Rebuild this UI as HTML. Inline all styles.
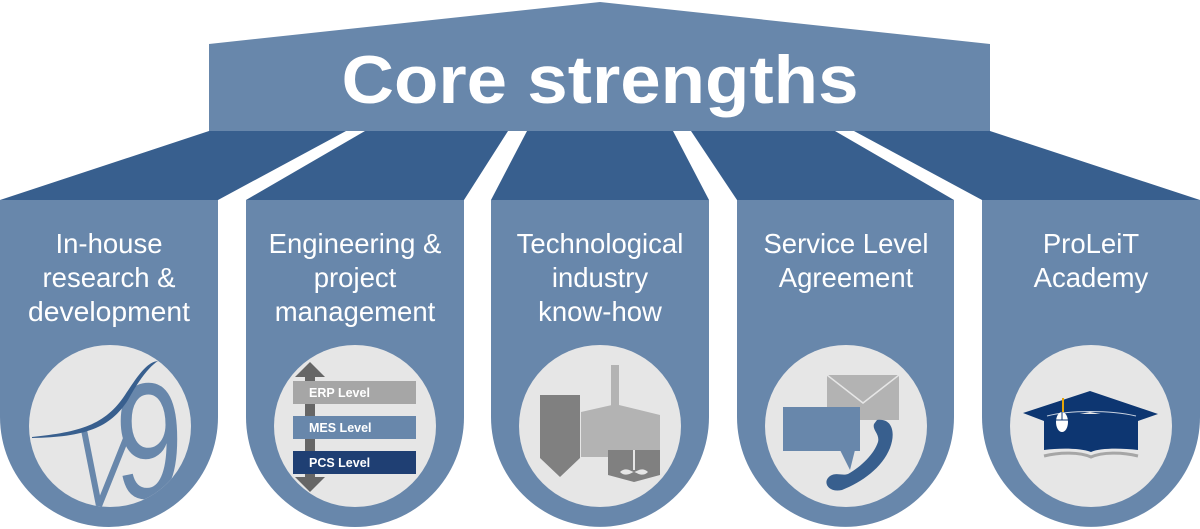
<!DOCTYPE html>
<html><head><meta charset="utf-8"><style>html,body{margin:0;padding:0;background:#fff}svg{display:block}</style></head>
<body>
<svg width="1200" height="529" viewBox="0 0 1200 529" xmlns="http://www.w3.org/2000/svg" font-family="Liberation Sans, Arial, sans-serif">
<defs>
<clipPath id="c1"><ellipse cx="110" cy="426" rx="81" ry="81"/></clipPath>
</defs>
<polygon points="209,44 600,2 990,44 990,131 209,131" fill="#6887ab"/>
<text x="600" y="103" text-anchor="middle" font-size="68" font-weight="bold" fill="#fff" textLength="517" lengthAdjust="spacingAndGlyphs">Core strengths</text>
<g fill="#385f8e">
<polygon points="0,200 218,200 346,131 209,131"/>
<polygon points="365,131 508,131 464,200 246,200"/>
<polygon points="527,131 673,131 709,200 491,200"/>
<polygon points="691,131 835,131 954,200 737,200"/>
<polygon points="854,131 990,131 1200,200 982,200"/>
</g>
<g fill="#6887ab">
<path d="M0,200 H218 V417 A109,110 0 0 1 0,417 Z"/>
<path d="M246,200 H464 V417 A109,110 0 0 1 246,417 Z"/>
<path d="M491,200 H709 V417 A109,110 0 0 1 491,417 Z"/>
<path d="M737,200 H954 V417 A108.5,110 0 0 1 737,417 Z"/>
<path d="M982,200 H1200 V417 A109,110 0 0 1 982,417 Z"/>
</g>
<g fill="#fff" font-size="27.5" text-anchor="middle">
<text x="109" y="253">In-house</text><text x="109" y="287">research &amp;</text><text x="109" y="321" textLength="162" lengthAdjust="spacingAndGlyphs">development</text>
<text x="355" y="253">Engineering &amp;</text><text x="355" y="287">project</text><text x="355" y="321">management</text>
<text x="600" y="253">Technological</text><text x="600" y="287">industry</text><text x="600" y="321">know-how</text>
<text x="846" y="253">Service Level</text><text x="846" y="287">Agreement</text>
<text x="1091" y="253">ProLeiT</text><text x="1091" y="287">Academy</text>
</g>
<g fill="#e6e6e6">
<ellipse cx="110" cy="426" rx="81" ry="81"/>
<ellipse cx="355" cy="426" rx="81" ry="81"/>
<ellipse cx="600" cy="426" rx="81" ry="81"/>
<ellipse cx="846" cy="426" rx="81" ry="81"/>
<ellipse cx="1091" cy="426" rx="81" ry="81"/>
</g>
<g clip-path="url(#c1)">
<polyline points="84,430 99,506 127,436" fill="none" stroke="#6887ab" stroke-width="6"/>
<text x="115" y="498" font-size="165" fill="#6887ab" textLength="68" lengthAdjust="spacingAndGlyphs">9</text>
<path d="M32,437 C80,432 105,425 125,395 C140,372 148,362 158,361 C150,366 140,378 128,400 C110,428 85,437 32,438 Z" fill="#385f8e"/>
</g>
<rect x="305" y="375" width="10" height="110" fill="#666"/>
<polygon points="310,362 295,377 325,377" fill="#666"/>
<polygon points="310,492 295,477 325,477" fill="#666"/>
<rect x="293" y="381" width="123" height="23" fill="#a6a6a6"/>
<rect x="293" y="416" width="123" height="23" fill="#6887ab"/>
<rect x="293" y="451" width="123" height="23" fill="#1f3f73"/>
<g fill="#fff" font-size="12.5" font-weight="bold">
<text x="309" y="397">ERP Level</text><text x="309" y="432">MES Level</text><text x="309" y="467">PCS Level</text>
</g>
<polygon points="540,395 580,395 580,458 560,477 540,458" fill="#808080"/>
<rect x="611" y="365" width="8" height="42" fill="#b3b3b3"/>
<polygon points="581,412 612,405 619,405 660,415 660,457 581,457" fill="#b3b3b3"/>
<polygon points="608,450 660,450 660,475 634,482 608,475" fill="#808080"/>
<rect x="633" y="450" width="2" height="20" fill="#e6e6e6"/>
<path d="M620,472 C626,466 632,472 634,472 C636,472 642,466 648,472 C642,478 636,472 634,472 C632,472 626,478 620,472 Z" fill="#e6e6e6"/>
<rect x="827" y="375" width="72" height="45" fill="#b3b3b3"/>
<polyline points="827,375 863,403 899,375" fill="none" stroke="#e6e6e6" stroke-width="1.5"/>
<rect x="783" y="407" width="77" height="44" fill="#6887ab"/>
<polygon points="840,450 850,470 855,450" fill="#6887ab"/>
<path d="M877,420 C892,418 896,432 890,448 C882,468 862,482 842,490 C828,493 822,482 830,476 C836,472 842,476 848,474 C862,466 874,454 878,442 C880,434 872,430 874,424 Z" fill="#385f8e"/>
<path d="M1044,414 L1138,414 L1138,450 C1120,448 1100,448 1091,452 C1080,448 1060,448 1044,450 Z" fill="#0d3671"/>
<polygon points="1090,391 1158,414 1138,421 1090,412 1044,421 1023,413" fill="#0d3671"/>
<path d="M1047,416 C1070,410 1110,410 1136,416" fill="none" stroke="#c8d2e0" stroke-width="1"/>
<path d="M1044,456 C1060,452 1080,452 1091,457 C1102,452 1122,452 1138,456" fill="none" stroke="#a6a6a6" stroke-width="3"/>
<line x1="1063" y1="398" x2="1063" y2="412" stroke="#e5a50a" stroke-width="2"/>
<ellipse cx="1062" cy="422" rx="6" ry="10" fill="#fff"/>
<line x1="1056" y1="420" x2="1068" y2="420" stroke="#0d3671" stroke-width="1"/>
<line x1="1062" y1="412" x2="1062" y2="420" stroke="#0d3671" stroke-width="1"/>
</svg>
</body></html>
